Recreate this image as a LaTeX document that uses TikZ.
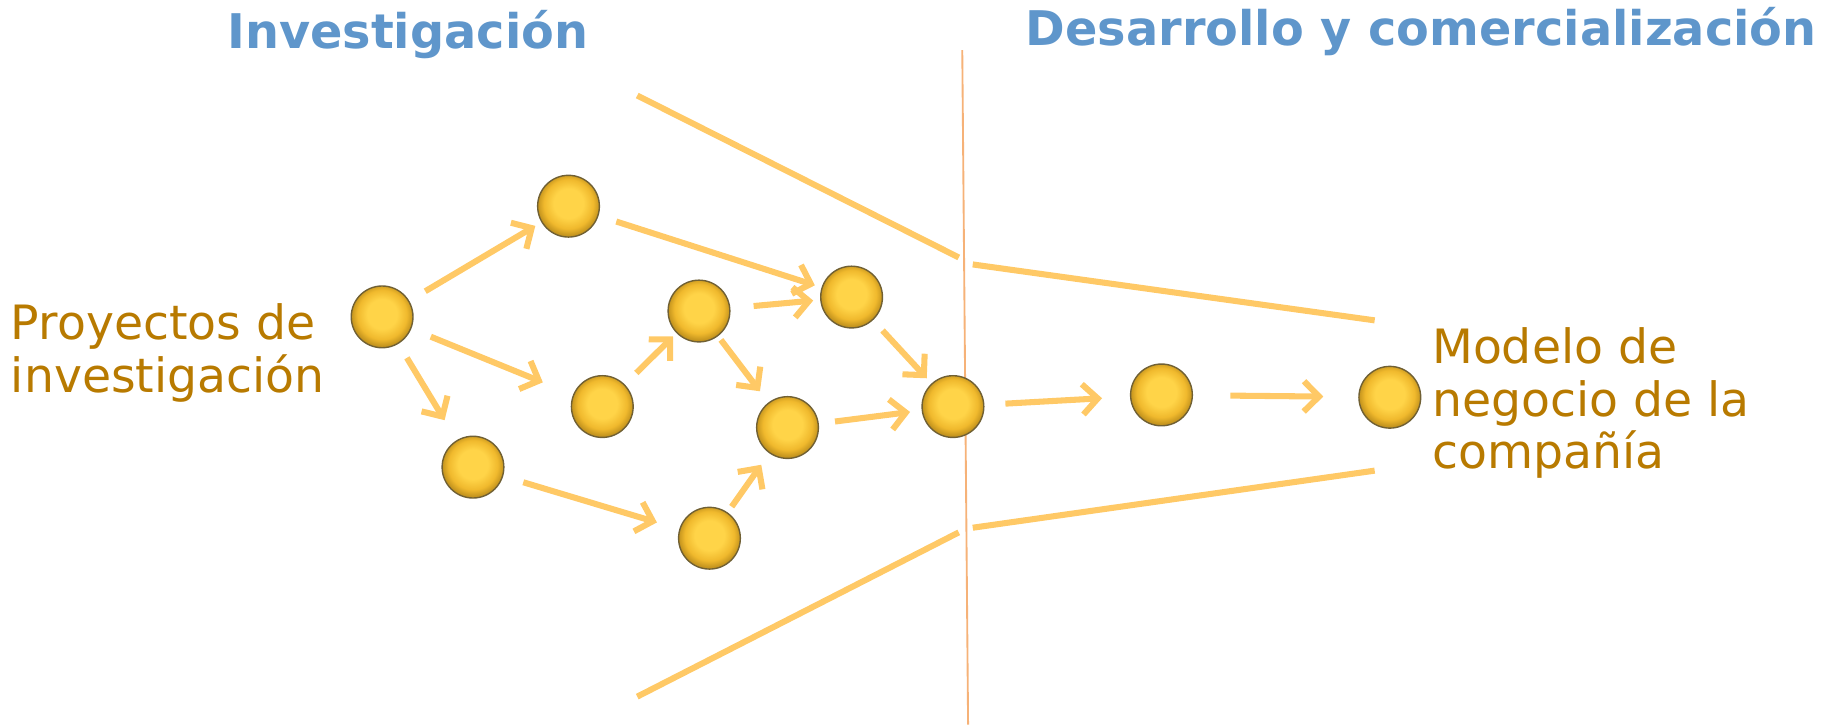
\documentclass[tikz,border=0pt]{standalone}
\usepackage{fontspec}
\setmainfont{DejaVu Sans}
\usepackage{tikz}
\usetikzlibrary{arrows.meta}

\definecolor{flecha}{RGB}{255,201,102}
\definecolor{bolaIn}{RGB}{255,212,72}
\definecolor{bolaMid}{RGB}{240,185,45}
\definecolor{bolaOut}{RGB}{196,148,30}
\definecolor{bolaBorde}{RGB}{112,96,52}
\definecolor{oro}{RGB}{184,122,0}
\definecolor{azul}{RGB}{95,150,203}
\definecolor{divisor}{RGB}{246,178,120}

\pgfdeclareradialshading{bolita}{\pgfpoint{0bp}{3bp}}{color(0bp)=(bolaIn); color(12bp)=(bolaIn); color(20bp)=(bolaMid); color(25bp)=(bolaOut); color(50bp)=(bolaOut)}

\tikzset{
  bola/.style={circle, minimum size=26.5pt, inner sep=0pt, draw=bolaBorde, line width=0.6pt,
    shading=bolita},
  arr/.style={draw=flecha, line width=2.6pt, -{Straight Barb[length=6.5pt,width=13pt]}},
  embudo/.style={draw=flecha, line width=2.6pt},
  titulo/.style={text=azul, font=\bfseries\fontsize{20.5}{24}\selectfont, inner sep=0pt},
  rotulo/.style={text=oro, font=\fontsize{20.3}{22.5}\selectfont, align=left, inner sep=0pt, anchor=west}
}

\begin{document}
\begin{tikzpicture}[x=0.5pt,y=-0.5pt]
\useasboundingbox (0,0) rectangle (1570,624);

%Straight Lines: funnel
\draw[embudo] (547,82) -- (823,221);
\draw[embudo] (835,227) -- (1180,275);
\draw[embudo] (547,598) -- (823,457);
\draw[embudo] (835,453) -- (1180,404);
%Straight Lines: divider
\draw[divisor, line width=0.8pt] (826,43) -- (831,622);

%Shape: Circles
\node[bola] (proy) at (328,272) {};
\node[bola] (a) at (488,177) {};
\node[bola] (b) at (517,349) {};
\node[bola] (c) at (406,401) {};
\node[bola] (d) at (600,267) {};
\node[bola] (e) at (731,255) {};
\node[bola] (f) at (676,367) {};
\node[bola] (g) at (609,462) {};
\node[bola] (h) at (818,349) {};
\node[bola] (i) at (997,339) {};
\node[bola] (modelo) at (1193,341) {};

%Arrows
\draw[arr, shorten <=8pt, shorten >=3pt] (proy) -- (a);
\draw[arr, shorten <=9pt, shorten >=14pt] (proy) -- (b);
\draw[arr, shorten <=7pt, shorten >=10pt] (proy) -- (c);
\draw[arr, shorten <=8pt, shorten >=3pt] (a) -- (e);
\draw[arr, shorten <=7pt, shorten >=2pt] (b) -- (d);
\draw[arr, shorten <=10pt, shorten >=3pt] (d) -- (e);
\draw[arr, shorten <=2pt, shorten >=6pt] (d) -- (f);
\draw[arr, shorten <=6pt, shorten >=3pt] (e) -- (h);
\draw[arr, shorten <=7pt, shorten >=5pt] (f) -- (h);
\draw[arr, shorten <=9pt, shorten >=10pt] (c) -- (g);
\draw[arr, shorten <=3pt, shorten >=6pt] (g) -- (f);
\draw[arr, shorten <=9pt, shorten >=12pt] (h) -- (i);
\draw[arr, shorten <=16pt, shorten >=15pt] (i) -- (modelo);

% Text Node
\node[titulo] (invest) at (350,30) {Investigación};
% Text Node
\node[titulo] (desarr) at (1220,27) {Desarrollo y comercialización};
% Text Node
\node[rotulo] (proytxt) at (9,303) {Proyectos de\\investigación};
% Text Node
\node[rotulo] (modelotxt) at (1229,346) {Modelo de\\negocio de la\\compañía};

\end{tikzpicture}
\end{document}
